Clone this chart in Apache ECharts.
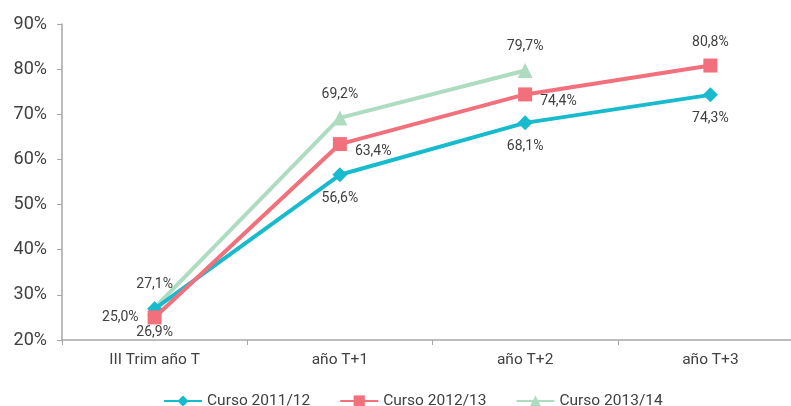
<!DOCTYPE html>
<html><head><meta charset="utf-8">
<script src="https://cdn.jsdelivr.net/npm/echarts@6/dist/echarts.min.js"></script>
<style>html,body{margin:0;padding:0;background:#fff;overflow:hidden;width:791px;height:406px}#c{width:803px;height:406px}</style>
</head><body><div id="c"></div>
<script>
const categories = ['III Trim año T', 'año T+1', 'año T+2', 'año T+3'];
const curso2011 = [26.9, 56.6, 68.1, 74.3];
const curso2012 = [25.0, 63.4, 74.4, 80.8];
const curso2013 = [27.1, 69.2, 79.7, null];
const seriesNames = ['Curso 2011/12', 'Curso 2012/13', 'Curso 2013/14'];
const yTicks = [20, 30, 40, 50, 60, 70, 80, 90];

const FONT = 'Roboto';
const fmt = p => p.value == null ? '' : p.value.toFixed(1).replace('.', ',') + '%';
const lbl = pos => ({show: true, position: pos, formatter: fmt, color: '#404040', fontSize: 14, fontFamily: FONT, distance: 9});

const chart = echarts.init(document.getElementById('c'), null, {renderer: 'canvas'});
chart.setOption({
  animation: false,
  textStyle: {fontFamily: FONT},
  grid: {left: 62, top: 24, bottom: 66, right: 0},
  legend: {
    data: seriesNames, left: 158, top: 388, itemWidth: 38, itemHeight: 14, itemGap: 29,
    textStyle: {color: '#404040', fontSize: 15.5, fontFamily: FONT}
  },
  xAxis: {
    type: 'category', data: categories, boundaryGap: true,
    axisLine: {lineStyle: {color: '#a6a6a6', width: 1.5}},
    axisTick: {show: true, length: 5, lineStyle: {color: '#a6a6a6'}},
    axisLabel: {color: '#404040', fontSize: 15.5, margin: 12, fontFamily: FONT}
  },
  yAxis: {
    type: 'value', min: yTicks[0], max: yTicks[yTicks.length - 1], interval: 10,
    axisLine: {show: true, lineStyle: {color: '#a6a6a6', width: 1.5}},
    axisTick: {show: true, length: 5, lineStyle: {color: '#a6a6a6'}},
    splitLine: {show: false},
    axisLabel: {color: '#404040', fontSize: 18, margin: 15, fontFamily: FONT, formatter: v => v + '%'}
  },
  series: [
    {name: seriesNames[0], type: 'line', data: curso2011, symbol: 'diamond', symbolSize: 15,
     itemStyle: {color: '#17BBCD'}, lineStyle: {width: 4, color: '#17BBCD'},
     label: lbl('bottom'), z: 3},
    {name: seriesNames[1], type: 'line', data: curso2012.map((v, i) => ({
        value: v, label: {position: i === 0 ? 'left' : (i === 3 ? 'top' : [22, 7])}
      })), symbol: 'rect', symbolSize: 14,
     itemStyle: {color: '#F2707B'}, lineStyle: {width: 4, color: '#F2707B'},
     label: lbl('right'), z: 4},
    {name: seriesNames[2], type: 'line', data: curso2013, symbol: 'triangle', symbolSize: 15,
     itemStyle: {color: '#ADDCC1'}, lineStyle: {width: 4, color: '#ADDCC1'},
     label: lbl('top'), z: 2}
  ]
});
</script></body></html>
